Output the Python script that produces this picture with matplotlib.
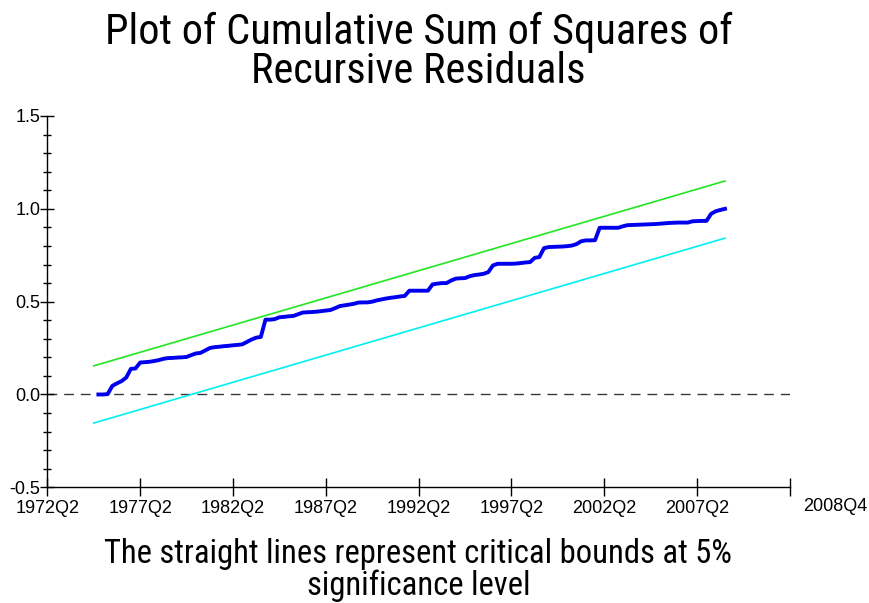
import matplotlib
matplotlib.use("Agg")
import matplotlib.pyplot as plt
import matplotlib.font_manager as fm
from matplotlib.ticker import MultipleLocator, FixedLocator, FormatStrFormatter
import matplotlib.transforms as mtransforms

# ---- data ----
title = "Plot of Cumulative Sum of Squares of\nRecursive Residuals"
footnote = "The straight lines represent critical bounds at 5%\nsignificance level"

tick_quarters = [0, 20, 40, 60, 80, 100, 120, 140, 160]
tick_labels = ["1972Q2", "1977Q2", "1982Q2", "1987Q2", "1992Q2",
               "1997Q2", "2002Q2", "2007Q2", ""]
end_label = "2008Q4"

bound_q = [10, 146]
upper_bound = [0.154, 1.150]
lower_bound = [-0.154, 0.842]

cusumsq_start = 11
cusumsq = [
    0.000, 0.000, 0.002, 0.046, 0.060, 0.072, 0.091, 0.138, 0.140, 0.172,   # 11-20
    0.174, 0.176, 0.180, 0.185, 0.192, 0.196, 0.197, 0.199, 0.200, 0.202,   # 21-30
    0.212, 0.221, 0.224, 0.237, 0.250, 0.255, 0.257, 0.260, 0.262, 0.265,   # 31-40
    0.267, 0.270, 0.283, 0.296, 0.306, 0.310, 0.403, 0.403, 0.406, 0.416,   # 41-50
    0.418, 0.421, 0.423, 0.432, 0.441, 0.443, 0.444, 0.446, 0.449, 0.452,   # 51-60
    0.455, 0.465, 0.476, 0.480, 0.484, 0.488, 0.495, 0.496, 0.496, 0.500,   # 61-70
    0.507, 0.512, 0.517, 0.521, 0.524, 0.528, 0.531, 0.559, 0.559, 0.559,   # 71-80
    0.559, 0.559, 0.593, 0.597, 0.600, 0.600, 0.614, 0.624, 0.626, 0.627,   # 81-90
    0.637, 0.643, 0.646, 0.650, 0.659, 0.695, 0.704, 0.704, 0.704, 0.704,   # 91-100
    0.705, 0.708, 0.711, 0.713, 0.736, 0.740, 0.788, 0.794, 0.795, 0.796,   # 101-110
    0.797, 0.799, 0.802, 0.810, 0.825, 0.830, 0.830, 0.831, 0.898, 0.898,   # 111-120
    0.898, 0.898, 0.898, 0.906, 0.912, 0.913, 0.914, 0.915, 0.916, 0.917,   # 121-130
    0.918, 0.920, 0.922, 0.924, 0.925, 0.926, 0.926, 0.926, 0.933, 0.934,   # 131-140
    0.935, 0.935, 0.973, 0.987, 0.994, 1.000,                               # 141-146
]
cusumsq_q = list(range(cusumsq_start, cusumsq_start + len(cusumsq)))

# ---- fonts ----
installed = {f.name for f in fm.fontManager.ttflist}
narrow_pref = ['Liberation Sans Narrow', 'Arial Narrow', 'Roboto Condensed',
               'Noto Sans Condensed', 'Noto Sans SemiCondensed',
               'Open Sans Condensed', 'DejaVu Sans Condensed']
narrow = next((n for n in narrow_pref if n in installed), None)
narrow_props = {}
if narrow is not None:
    narrow_props = dict(family=[narrow, 'Liberation Sans', 'DejaVu Sans'])
    title_size, foot_size = 30.5, 23.5
else:
    cond = [f for f in fm.fontManager.ttflist
            if f.stretch in ('condensed', 'semi-condensed', 'extra-condensed')
            and 'Mono' not in f.name and 'Serif' not in f.name and f.style == 'normal']
    if cond:
        narrow_props = dict(family=[cond[0].name, 'Liberation Sans'], stretch=cond[0].stretch)
        title_size, foot_size = 30.5, 23.5
    else:
        narrow_props = dict(family=['Liberation Sans', 'DejaVu Sans'])
        title_size, foot_size = 27, 20

plt.rcParams['font.family'] = ['Liberation Sans', 'DejaVu Sans']

# ---- figure ----
fig = plt.figure(figsize=(8.7, 6.03), dpi=100)
ax = fig.add_axes([47.3 / 870, 1 - 487.3 / 603, (790 - 47.3) / 870, (487.3 - 116) / 603])

ax.axhline(0.0, color='#383838', lw=1.0, linestyle=(0, (7, 5)), zorder=1)
ax.plot(bound_q, upper_bound, color='#22e622', lw=1.2, zorder=2)
ax.plot(bound_q, lower_bound, color='#00f0f0', lw=1.2, zorder=2)
ax.plot(cusumsq_q, cusumsq, color='#0000ee', lw=2.8, zorder=3, solid_joinstyle='round')

ax.set_xlim(0, 160)
ax.set_ylim(-0.5, 1.5)

for s in ['top', 'right']:
    ax.spines[s].set_visible(False)
for s in ['left', 'bottom']:
    ax.spines[s].set_linewidth(1.0)
    ax.spines[s].set_color('black')

ax.yaxis.set_major_locator(MultipleLocator(0.5))
ax.yaxis.set_minor_locator(MultipleLocator(0.1))
ax.yaxis.set_major_formatter(FormatStrFormatter('%.1f'))
ax.tick_params(axis='y', which='major', direction='inout', length=10, width=1,
               labelsize=13, pad=0)
ax.tick_params(axis='y', which='minor', direction='inout', length=6, width=1)

ax.xaxis.set_major_locator(FixedLocator(tick_quarters))
ax.set_xticklabels(tick_labels)
ax.tick_params(axis='x', which='major', direction='inout', length=13, width=1,
               labelsize=13, pad=2.5)

trans = mtransforms.blended_transform_factory(ax.transData, ax.transAxes)
ax.text(169.7, -0.028, end_label, transform=trans, ha='center', va='top',
        fontsize=13, clip_on=False)

fig.text(0.481, 0.980, title, ha='center', va='top', fontsize=title_size,
         linespacing=0.93, **narrow_props)
fig.text(0.481, 0.108, footnote, ha='center', va='top', fontsize=foot_size,
         linespacing=0.98, **narrow_props)

fig.savefig('out.png', dpi=100)
